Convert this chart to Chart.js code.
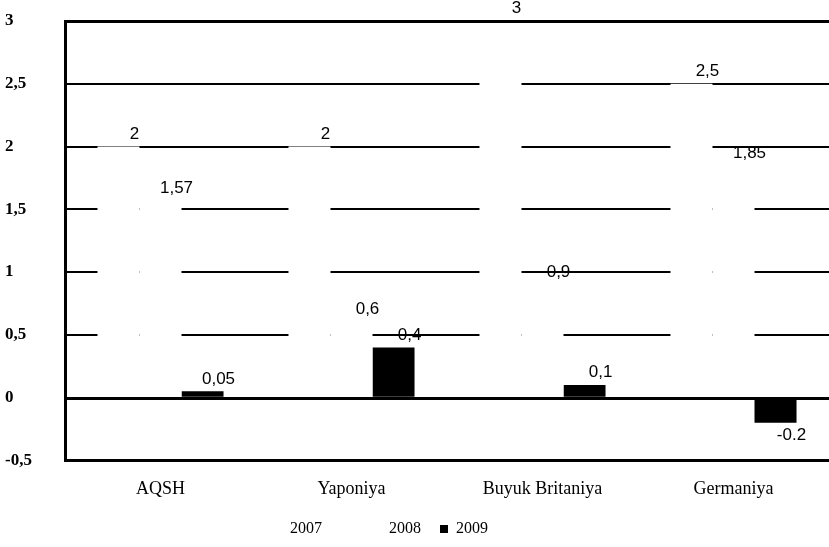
<!DOCTYPE html>
<html>
<head>
<meta charset="utf-8">
<script src="https://cdn.jsdelivr.net/npm/chart.js@4"></script>
<style>
  html, body { margin: 0; padding: 0; background: #fff; }
  #wrap { width: 829px; height: 547px; position: relative; }
</style>
</head>
<body>
<div id="wrap"><canvas id="chart"></canvas></div>
<script>
const countries = ["AQSH", "Yaponiya", "Buyuk Britaniya", "Germaniya"];
const years = ["2007", "2008", "2009"];
const values2007 = [2, 2, 3, 2.5];
const values2008 = [1.57, 0.6, 0.9, 1.85];
const values2009 = [0.05, 0.4, 0.1, -0.2];
const yTicks = [-0.5, 0, 0.5, 1, 1.5, 2, 2.5, 3];

const serif = "'Liberation Serif', 'DejaVu Serif', serif";
const narrow = "'Liberation Sans Narrow', 'Liberation Sans', sans-serif";

function fmt(v) {
  return v < 0 ? String(v) : String(v).replace(".", ",");
}

const overlayLines = {
  id: "overlayLines",
  afterDatasetsDraw(chart) {
    const ctx = chart.ctx;
    const area = chart.chartArea;
    const y = chart.scales.y;
    ctx.save();
    ctx.strokeStyle = "#000";
    ctx.lineWidth = 3;
    [0, 3].forEach((v) => {
      const py = Math.round(y.getPixelForValue(v)) + 0.5;
      ctx.beginPath();
      ctx.moveTo(area.left, py);
      ctx.lineTo(area.right, py);
      ctx.stroke();
    });
    ctx.restore();
  },
};

const valueLabels = {
  id: "valueLabels",
  afterDatasetsDraw(chart) {
    const ctx = chart.ctx;
    ctx.save();
    ctx.fillStyle = "#000";
    ctx.font = "17px " + narrow;
    ctx.textAlign = "center";
    chart.data.datasets.forEach((ds, i) => {
      chart.getDatasetMeta(i).data.forEach((bar, j) => {
        const v = ds.data[j];
        ctx.textBaseline = v < 0 ? "top" : "bottom";
        ctx.fillText(fmt(v), bar.x + 16, v < 0 ? bar.y + 4 : bar.y - 4);
      });
    });
    ctx.restore();
  },
};

// trailing spaces only widen the legend items, so they spread like the original
const legendPad = [12, 4, 18];

new Chart(document.getElementById("chart"), {
  type: "bar",
  data: {
    labels: countries,
    datasets: [
      { label: years[0], data: values2007, backgroundColor: "#fff" },
      { label: years[1], data: values2008, backgroundColor: "#fff" },
      { label: years[2], data: values2009, backgroundColor: "#000" },
    ],
  },
  options: {
    responsive: true,
    maintainAspectRatio: false,
    animation: false,
    layout: { padding: { left: 5, top: 21, right: 0, bottom: 0 } },
    datasets: { bar: { categoryPercentage: 0.66, barPercentage: 1 } },
    plugins: {
      tooltip: { enabled: false },
      legend: {
        position: "bottom",
        labels: {
          color: "#000",
          font: { family: serif, size: 16 },
          boxWidth: 8,
          boxHeight: 8,
          padding: 3,
          generateLabels: (chart) =>
            Chart.defaults.plugins.legend.labels.generateLabels(chart).map((item, i) => {
              item.text = item.text + " ".repeat(legendPad[i]);
              return item;
            }),
        },
      },
    },
    scales: {
      x: {
        grid: { display: false, drawTicks: false },
        border: { color: "#000", width: 3 },
        ticks: { color: "#000", padding: 18, font: { family: serif, size: 18 } },
      },
      y: {
        min: -0.5,
        max: 3,
        afterFit: (scale) => { scale.width = 60; },
        afterBuildTicks: (scale) => { scale.ticks = yTicks.map((v) => ({ value: v })); },
        grid: { color: "#000", lineWidth: 2, drawTicks: false },
        border: { color: "#000", width: 3 },
        ticks: {
          color: "#000",
          crossAlign: "far",
          font: { family: serif, size: 17, weight: "bold" },
          callback: (v) => String(v).replace(".", ","),
        },
      },
    },
  },
  plugins: [overlayLines, valueLabels],
});
</script>
</body>
</html>
